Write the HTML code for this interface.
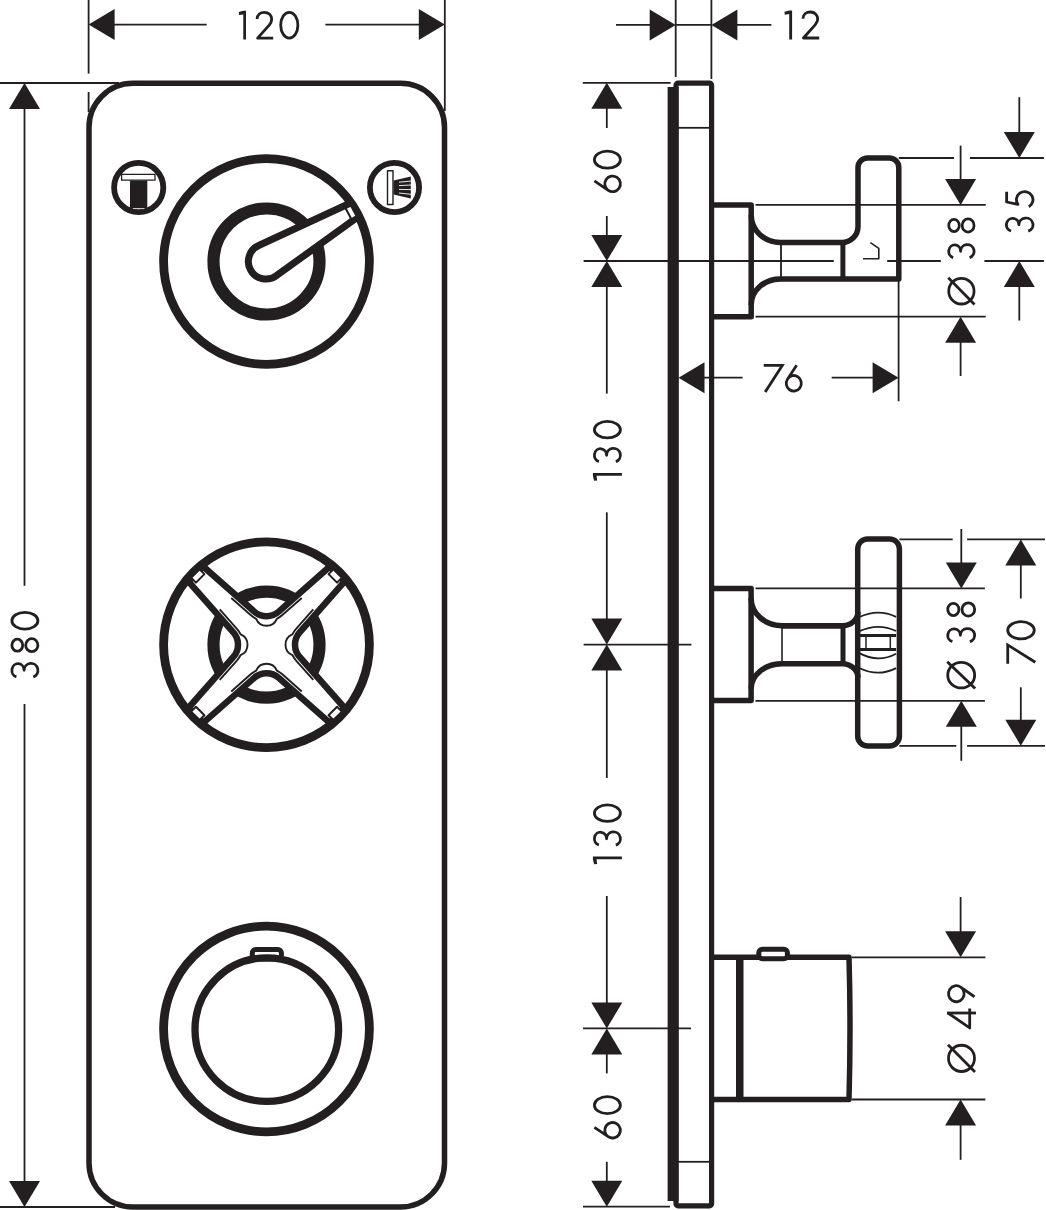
<!DOCTYPE html>
<html><head><meta charset="utf-8"><title>Drawing</title>
<style>
html,body{margin:0;padding:0;background:#fff;width:1046px;height:1210px;overflow:hidden;font-family:"Liberation Sans",sans-serif;}
svg{display:block;}
</style></head><body>
<svg width="1046" height="1210" viewBox="0 0 1046 1210">
<rect x="0" y="0" width="1046" height="1210" fill="#fff"/>
<g stroke="#231f20" fill="none" stroke-linecap="butt" stroke-linejoin="round">
<rect x="89" y="83.3" width="355.5" height="1123.7" rx="44" ry="44" stroke-width="5.5" fill="none"/>
<line x1="88.6" y1="0" x2="88.6" y2="73.6" stroke-width="1.8"/>
<line x1="88.6" y1="92" x2="88.6" y2="112" stroke-width="1.8"/>
<line x1="444.8" y1="0" x2="444.8" y2="111" stroke-width="1.8"/>
<polygon fill="#231f20" stroke="none" points="88.6,24.6 114.6,9.1 114.6,40.1"/>
<polygon fill="#231f20" stroke="none" points="444.8,24.6 418.8,9.1 418.8,40.1"/>
<line x1="114" y1="24.6" x2="206.7" y2="24.6" stroke-width="1.8"/>
<line x1="325.4" y1="24.6" x2="419" y2="24.6" stroke-width="1.8"/>
<g transform="translate(238.8 10.8) scale(0.9733 0.9931)" stroke-width="2.85" fill="none"><path d="M0,1.2 L4.6,0 H7.4 V29 H4.6 V3.6 L0.2,4.3 Z" fill="#231f20" stroke="none"/></g>
<g transform="translate(255.6 10.8) scale(1.0000 0.9931)" stroke-width="2.81" fill="none"><path d="M1.5,8.3 C1.6,4.2 4.8,1.5 8.8,1.5 C13,1.5 16.1,4.6 16.1,8.6 C16.1,10.9 15.2,12.6 13.6,14.4 L2,27.5 L17.6,27.5"/></g>
<g transform="translate(279.2 10.8) scale(1.0100 0.9931)" stroke-width="2.8" fill="none"><ellipse cx="10" cy="14.5" rx="8.5" ry="13"/></g>
<line x1="0" y1="83" x2="119" y2="83" stroke-width="1.8"/>
<line x1="0" y1="1207" x2="115" y2="1207" stroke-width="1.8"/>
<polygon fill="#231f20" stroke="none" points="24.5,83 9,109 40,109"/>
<polygon fill="#231f20" stroke="none" points="24.5,1207 9,1181 40,1181"/>
<line x1="24.5" y1="108" x2="24.5" y2="585.8" stroke-width="1.8"/>
<line x1="24.5" y1="704" x2="24.5" y2="1182" stroke-width="1.8"/>
<g transform="translate(10.4 678.9) rotate(-90) scale(1.0059 1.0000)" stroke-width="2.79" fill="none"><path d="M2.03,6.02 A6.7,6.1 0 1 1 8.5,13.7 A7,6.9 0 1 1 1.92,22.9"/></g>
<g transform="translate(10.4 653.2) rotate(-90) scale(1.0000 1.0000)" stroke-width="2.8" fill="none"><ellipse cx="8" cy="6.9" rx="6" ry="5.4"/><ellipse cx="8" cy="21.4" rx="6.5" ry="6.1"/></g>
<g transform="translate(10.4 630.5) rotate(-90) scale(0.9850 1.0000)" stroke-width="2.82" fill="none"><ellipse cx="10" cy="14.5" rx="8.5" ry="13"/></g>
<circle cx="138.7" cy="187.5" r="24.6" stroke-width="5.8" fill="none"/>
<rect x="121.6" y="174.4" width="33.4" height="5.8" stroke-width="1.3" fill="#fff"/>
<rect x="130" y="180.6" width="17.3" height="27.8" fill="#231f20" stroke="none"/>
<line x1="133" y1="208.3" x2="144.5" y2="208.3" stroke-width="1"/>
<line x1="133" y1="208.6" x2="144.5" y2="208.6" stroke="#fff" stroke-width="0.8"/>
<circle cx="394.5" cy="187.5" r="24.6" stroke-width="5.8" fill="none"/>
<rect x="387.5" y="170.7" width="5.5" height="33.8" stroke-width="1.4" fill="#fff"/>
<path d="M393.6,180.5 L410.8,176.6 L410.8,198.4 L393.6,194.6 Z" fill="#231f20" stroke="none"/>
<path d="M399,182.2 L411.5,181" stroke="#fff" stroke-width="0.9"/>
<path d="M399,185.6 L411.5,185" stroke="#fff" stroke-width="0.9"/>
<path d="M399,189.4 L411.5,189.6" stroke="#fff" stroke-width="0.9"/>
<path d="M399,193 L411.5,194.4" stroke="#fff" stroke-width="0.9"/>
<circle cx="266.5" cy="261.5" r="53" stroke-width="12.2" fill="none"/>
<path d="M348.32,204.01 L259.23,245.2 A17.6,17.6 0 1 0 276.67,275.43 L356.52,217.94" stroke-width="7" fill="#fff" />
<circle cx="266.5" cy="261.5" r="102.9" stroke-width="8.8" fill="none"/>
<path d="M345.6,208.2 L350.9,205.6 L356.6,216.2 L351.4,219.2 Z" stroke-width="2" fill="#fff" />
<circle cx="266.5" cy="644.7" r="53" stroke-width="12.2" fill="none"/>
<path d="M329.79,566.56 L344.64,581.41 L344.64,581.41 L299.63,632.44 A18.53,18.53 0 0 0 299.63,656.96 L344.64,707.99 L329.79,722.84 L329.79,722.84 L278.76,677.83 A18.53,18.53 0 0 0 254.24,677.83 L203.21,722.84 L188.36,707.99 L188.36,707.99 L233.37,656.96 A18.53,18.53 0 0 0 233.37,632.44 L188.36,581.41 L203.21,566.56 L203.21,566.56 L254.24,611.57 A18.53,18.53 0 0 0 278.76,611.57 L329.79,566.56 Z" stroke-width="6.5" fill="#fff" />
<path d="M313.27,609.44 L295.88,629.14 A23.53,23.53 0 0 0 292.39,634.36 A11.2,11.2 0 0 0 292.39,655.04 A23.53,23.53 0 0 0 295.88,660.26 L313.27,679.96" stroke-width="1.9" fill="none" />
<path d="M301.76,691.47 L282.06,674.08 A23.53,23.53 0 0 0 276.84,670.59 A11.2,11.2 0 0 0 256.16,670.59 A23.53,23.53 0 0 0 250.94,674.08 L231.24,691.47" stroke-width="1.9" fill="none" />
<path d="M219.73,679.96 L237.12,660.26 A23.53,23.53 0 0 0 240.61,655.04 A11.2,11.2 0 0 0 240.61,634.36 A23.53,23.53 0 0 0 237.12,629.14 L219.73,609.44" stroke-width="1.9" fill="none" />
<path d="M231.24,597.93 L250.94,615.32 A23.53,23.53 0 0 0 256.16,618.81 A11.2,11.2 0 0 0 276.84,618.81 A23.53,23.53 0 0 0 282.06,615.32 L301.76,597.93" stroke-width="1.9" fill="none" />
<circle cx="266.5" cy="644.7" r="102.9" stroke-width="8.8" fill="none"/>
<path d="M328.58,574.13 L333.39,569.32 L341.88,577.81 L337.07,582.62 Z" stroke-width="2" fill="#fff" />
<path d="M337.07,706.78 L341.88,711.59 L333.39,720.08 L328.58,715.27 Z" stroke-width="2" fill="#fff" />
<path d="M204.42,715.27 L199.61,720.08 L191.12,711.59 L195.93,706.78 Z" stroke-width="2" fill="#fff" />
<path d="M195.93,582.62 L191.12,577.81 L199.61,569.32 L204.42,574.13 Z" stroke-width="2" fill="#fff" />
<rect x="252.3" y="949.6" width="29.1" height="9.5" rx="3.5" stroke-width="5" fill="#fff"/>
<circle cx="266.8" cy="1029.6" r="71.8" stroke-width="7.3" fill="none"/>
<circle cx="266.5" cy="1029" r="102.9" stroke-width="8.8" fill="none"/>
<rect x="667.6" y="87" width="11" height="1114" fill="#231f20" stroke="none"/>
<rect x="676" y="83.2" width="35.6" height="1122.6" rx="2" stroke-width="5.2" fill="none"/>
<line x1="678" y1="127.8" x2="709" y2="127.8" stroke-width="1.8"/>
<line x1="678" y1="1161.8" x2="709" y2="1161.8" stroke-width="1.8"/>
<line x1="675.7" y1="0" x2="675.7" y2="77" stroke-width="1.8"/>
<line x1="711.4" y1="0" x2="711.4" y2="79" stroke-width="1.8"/>
<line x1="616" y1="24.9" x2="652" y2="24.9" stroke-width="1.8"/>
<polygon fill="#231f20" stroke="none" points="675.7,24.9 649.7,9.4 649.7,40.4"/>
<line x1="675.7" y1="24.9" x2="711.4" y2="24.9" stroke-width="1.8"/>
<polygon fill="#231f20" stroke="none" points="711.4,24.9 737.4,9.4 737.4,40.4"/>
<line x1="735" y1="24.9" x2="771.4" y2="24.9" stroke-width="1.8"/>
<g transform="translate(784.5 10.5) scale(1.0267 1.0000)" stroke-width="2.76" fill="none"><path d="M0,1.2 L4.6,0 H7.4 V29 H4.6 V3.6 L0.2,4.3 Z" fill="#231f20" stroke="none"/></g>
<g transform="translate(801.4 10.5) scale(1.0114 1.0000)" stroke-width="2.78" fill="none"><path d="M1.5,8.3 C1.6,4.2 4.8,1.5 8.8,1.5 C13,1.5 16.1,4.6 16.1,8.6 C16.1,10.9 15.2,12.6 13.6,14.4 L2,27.5 L17.6,27.5"/></g>
<line x1="582.8" y1="82.8" x2="670.6" y2="82.8" stroke-width="1.8"/>
<line x1="583" y1="1206.7" x2="670" y2="1206.7" stroke-width="1.8"/>
<line x1="583.6" y1="644.6" x2="691.4" y2="644.6" stroke-width="1.8"/>
<line x1="583" y1="1028.4" x2="691" y2="1028.4" stroke-width="1.8"/>
<polygon fill="#231f20" stroke="none" points="606.8,82.8 591.3,108.8 622.3,108.8"/>
<line x1="606.8" y1="105" x2="606.8" y2="128" stroke-width="1.8"/>
<g transform="translate(592.9 193.5) rotate(-90) scale(1.0000 1.0000)" stroke-width="2.8" fill="none"><path d="M12.6,1.5 L3.2,15.31 A7.8,7.8 0 1 0 16.1,24.09 A7.8,7.8 0 1 0 3.2,15.31"/></g>
<g transform="translate(592.9 169.7) rotate(-90) scale(1.0000 1.0000)" stroke-width="2.8" fill="none"><ellipse cx="10" cy="14.5" rx="8.5" ry="13"/></g>
<line x1="606.8" y1="216" x2="606.8" y2="237" stroke-width="1.8"/>
<polygon fill="#231f20" stroke="none" points="606.8,261 591.3,235 622.3,235"/>
<polygon fill="#231f20" stroke="none" points="606.8,261 591.3,287 622.3,287"/>
<line x1="606.8" y1="284" x2="606.8" y2="393.6" stroke-width="1.8"/>
<g transform="translate(592.9 480.7) rotate(-90) scale(1.0533 1.0000)" stroke-width="2.73" fill="none"><path d="M0,1.2 L4.6,0 H7.4 V29 H4.6 V3.6 L0.2,4.3 Z" fill="#231f20" stroke="none"/></g>
<g transform="translate(592.9 463.5) rotate(-90) scale(0.9706 1.0000)" stroke-width="2.84" fill="none"><path d="M2.03,6.02 A6.7,6.1 0 1 1 8.5,13.7 A7,6.9 0 1 1 1.92,22.9"/></g>
<g transform="translate(592.9 439.4) rotate(-90) scale(0.9750 1.0000)" stroke-width="2.84" fill="none"><ellipse cx="10" cy="14.5" rx="8.5" ry="13"/></g>
<line x1="606.8" y1="512.3" x2="606.8" y2="620" stroke-width="1.8"/>
<polygon fill="#231f20" stroke="none" points="606.8,644.6 591.3,618.6 622.3,618.6"/>
<polygon fill="#231f20" stroke="none" points="606.8,644.6 591.3,670.6 622.3,670.6"/>
<line x1="606.8" y1="668" x2="606.8" y2="778" stroke-width="1.8"/>
<g transform="translate(592.9 864.2) rotate(-90) scale(1.0533 1.0000)" stroke-width="2.73" fill="none"><path d="M0,1.2 L4.6,0 H7.4 V29 H4.6 V3.6 L0.2,4.3 Z" fill="#231f20" stroke="none"/></g>
<g transform="translate(592.9 847) rotate(-90) scale(0.9706 1.0000)" stroke-width="2.84" fill="none"><path d="M2.03,6.02 A6.7,6.1 0 1 1 8.5,13.7 A7,6.9 0 1 1 1.92,22.9"/></g>
<g transform="translate(592.9 822.9) rotate(-90) scale(0.9750 1.0000)" stroke-width="2.84" fill="none"><ellipse cx="10" cy="14.5" rx="8.5" ry="13"/></g>
<line x1="606.8" y1="896" x2="606.8" y2="1004" stroke-width="1.8"/>
<polygon fill="#231f20" stroke="none" points="606.8,1028.4 591.3,1002.4 622.3,1002.4"/>
<polygon fill="#231f20" stroke="none" points="606.8,1028.4 591.3,1054.4 622.3,1054.4"/>
<line x1="606.8" y1="1052" x2="606.8" y2="1073.4" stroke-width="1.8"/>
<g transform="translate(592.9 1139.8) rotate(-90) scale(0.9896 1.0000)" stroke-width="2.81" fill="none"><path d="M12.6,1.5 L3.2,15.31 A7.8,7.8 0 1 0 16.1,24.09 A7.8,7.8 0 1 0 3.2,15.31"/></g>
<g transform="translate(592.9 1115.1) rotate(-90) scale(0.9950 1.0000)" stroke-width="2.81" fill="none"><ellipse cx="10" cy="14.5" rx="8.5" ry="13"/></g>
<line x1="606.8" y1="1161.8" x2="606.8" y2="1183" stroke-width="1.8"/>
<polygon fill="#231f20" stroke="none" points="606.8,1206.7 591.3,1180.7 622.3,1180.7"/>
<line x1="583.6" y1="261" x2="833.8" y2="261" stroke-width="1.8"/>
<line x1="887.2" y1="261" x2="940.8" y2="261" stroke-width="1.8"/>
<line x1="984.4" y1="261" x2="1043.9" y2="261" stroke-width="1.8"/>
<line x1="755.5" y1="204.9" x2="985.7" y2="204.9" stroke-width="1.8"/>
<line x1="755.5" y1="316.7" x2="985.7" y2="316.7" stroke-width="1.8"/>
<path d="M711.6,204.9 H751.2 V316.8 H711.6" stroke-width="5.5" fill="none" />
<path d="M751.2,215 A29,27.5 0 0 0 780.2,242.5 H842 A16,16 0 0 0 858,226.5 V167.5 A9.5,9.5 0 0 1 867.5,158 H889.3 A9.5,9.5 0 0 1 898.8,167.5 V278.9 H780.2 A29,26 0 0 0 751.2,304.9" stroke-width="5.5" fill="none" />
<line x1="781" y1="242.5" x2="781" y2="278.9" stroke-width="1.8"/>
<line x1="842.9" y1="242.5" x2="842.9" y2="278.9" stroke-width="5"/>
<path d="M870.4,242.6 L878.8,248.3 V258.8 H863" stroke-width="1.6" fill="none" />
<line x1="898.6" y1="278.9" x2="898.6" y2="401.3" stroke-width="1.8"/>
<polygon fill="#231f20" stroke="none" points="678.5,377.7 704.5,362.2 704.5,393.2"/>
<line x1="700" y1="377.7" x2="742.6" y2="377.7" stroke-width="1.8"/>
<line x1="831.7" y1="377.7" x2="875" y2="377.7" stroke-width="1.8"/>
<polygon fill="#231f20" stroke="none" points="898.6,377.7 872.6,362.2 872.6,393.2"/>
<g transform="translate(763.7 364) scale(1.0000 0.9862)" stroke-width="2.82" fill="none"><path d="M0,1.5 L18.6,1.5 L1.5,28.5" stroke-linejoin="miter"/></g>
<g transform="translate(784.5 363.7) scale(0.9637 0.9966)" stroke-width="2.86" fill="none"><path d="M12.6,1.5 L3.2,15.31 A7.8,7.8 0 1 0 16.1,24.09 A7.8,7.8 0 1 0 3.2,15.31"/></g>
<line x1="960.6" y1="145.6" x2="960.6" y2="180" stroke-width="1.8"/>
<polygon fill="#231f20" stroke="none" points="960.6,204.9 945.1,178.9 976.1,178.9"/>
<polygon fill="#231f20" stroke="none" points="960.6,316.7 945.1,342.7 976.1,342.7"/>
<line x1="960.6" y1="340" x2="960.6" y2="376" stroke-width="1.8"/>
<g transform="translate(947.3 305.5) rotate(-90) scale(1.0070 0.9724)" stroke-width="2.83" fill="none"><ellipse cx="14.25" cy="14.5" rx="12.75" ry="13"/><path d="M27.5,1 L1,28"/></g>
<g transform="translate(947.3 259.5) rotate(-90) scale(0.9588 0.9724)" stroke-width="2.9" fill="none"><path d="M2.03,6.02 A6.7,6.1 0 1 1 8.5,13.7 A7,6.9 0 1 1 1.92,22.9"/></g>
<g transform="translate(947.3 233.6) rotate(-90) scale(1.0187 0.9724)" stroke-width="2.81" fill="none"><ellipse cx="8" cy="6.9" rx="6" ry="5.4"/><ellipse cx="8" cy="21.4" rx="6.5" ry="6.1"/></g>
<line x1="898.8" y1="158" x2="954" y2="158" stroke-width="1.8"/>
<line x1="969.9" y1="158" x2="1043.9" y2="158" stroke-width="1.8"/>
<line x1="1019.3" y1="97.2" x2="1019.3" y2="134" stroke-width="1.8"/>
<polygon fill="#231f20" stroke="none" points="1019.3,158 1003.8,132 1034.8,132"/>
<polygon fill="#231f20" stroke="none" points="1019.3,261 1003.8,287 1034.8,287"/>
<line x1="1019.3" y1="285" x2="1019.3" y2="320.5" stroke-width="1.8"/>
<g transform="translate(1004.9 233) rotate(-90) scale(0.9647 1.0207)" stroke-width="2.82" fill="none"><path d="M2.03,6.02 A6.7,6.1 0 1 1 8.5,13.7 A7,6.9 0 1 1 1.92,22.9"/></g>
<g transform="translate(1004.9 209.3) rotate(-90) scale(1.0000 1.0207)" stroke-width="2.77" fill="none"><path d="M17.5,1.7 L7.3,1.7 L4.95,12.77 A8.1,8.1 0 1 1 2.59,23.45"/></g>
<line x1="755.5" y1="588.4" x2="984.9" y2="588.4" stroke-width="1.8"/>
<line x1="755.5" y1="700.8" x2="984.9" y2="700.8" stroke-width="1.8"/>
<path d="M711.6,588.4 H751.1 V700.6 H711.6" stroke-width="5.5" fill="none" />
<path d="M751.1,598 A31,27.8 0 0 0 782,625.8 H843 A16,14 0 0 0 858,612 M843,663.7 A16,14 0 0 1 858,677.5 M782,663.7 A31,25 0 0 0 751.1,688.7" stroke-width="5.5" fill="none" />
<line x1="782" y1="625.8" x2="843" y2="625.8" stroke-width="5.5"/>
<line x1="782" y1="663.7" x2="843" y2="663.7" stroke-width="5.5"/>
<line x1="782" y1="625.8" x2="782" y2="663.7" stroke-width="1.6"/>
<line x1="843" y1="623.5" x2="843" y2="666" stroke-width="5"/>
<rect x="857.7" y="538.9" width="41.7" height="207.2" rx="10" stroke-width="5.5" fill="none"/>
<path d="M858.9,617.3 Q877.9,608.3 896.1,616.9 M858.9,667.7 Q877.9,677.5 896.1,668.1" stroke-width="1.8" fill="none" />
<path d="M858.9,631.4 Q877.9,622.4 896.1,631 M858.9,652.9 Q877.9,663.5 896.1,653.7" stroke-width="1.8" fill="none" />
<line x1="858.9" y1="635.5" x2="896.1" y2="635.5" stroke-width="2.8"/>
<line x1="858.9" y1="649.5" x2="896.1" y2="649.5" stroke-width="2.8"/>
<line x1="866" y1="635.5" x2="866" y2="649.5" stroke-width="1.5"/>
<line x1="890.3" y1="635.5" x2="890.3" y2="649.5" stroke-width="1.5"/>
<line x1="961.3" y1="529" x2="961.3" y2="565" stroke-width="1.8"/>
<polygon fill="#231f20" stroke="none" points="961.3,588.4 945.8,562.4 976.8,562.4"/>
<polygon fill="#231f20" stroke="none" points="961.3,700.8 945.8,726.8 976.8,726.8"/>
<line x1="961.3" y1="725" x2="961.3" y2="760.8" stroke-width="1.8"/>
<g transform="translate(946.2 689.5) rotate(-90) scale(1.0070 1.0345)" stroke-width="2.74" fill="none"><ellipse cx="14.25" cy="14.5" rx="12.75" ry="13"/><path d="M27.5,1 L1,28"/></g>
<g transform="translate(946.2 643.5) rotate(-90) scale(0.9588 1.0345)" stroke-width="2.81" fill="none"><path d="M2.03,6.02 A6.7,6.1 0 1 1 8.5,13.7 A7,6.9 0 1 1 1.92,22.9"/></g>
<g transform="translate(946.2 617.6) rotate(-90) scale(1.0188 1.0345)" stroke-width="2.73" fill="none"><ellipse cx="8" cy="6.9" rx="6" ry="5.4"/><ellipse cx="8" cy="21.4" rx="6.5" ry="6.1"/></g>
<line x1="899.4" y1="539.4" x2="952.7" y2="539.4" stroke-width="1.8"/>
<line x1="967.1" y1="539.4" x2="1045" y2="539.4" stroke-width="1.8"/>
<line x1="899.4" y1="745.8" x2="956.3" y2="745.8" stroke-width="1.8"/>
<line x1="967.1" y1="745.8" x2="1045" y2="745.8" stroke-width="1.8"/>
<polygon fill="#231f20" stroke="none" points="1020.8,539.4 1005.3,565.4 1036.3,565.4"/>
<line x1="1020.8" y1="563" x2="1020.8" y2="598.5" stroke-width="1.8"/>
<line x1="1020.8" y1="687.3" x2="1020.8" y2="722" stroke-width="1.8"/>
<polygon fill="#231f20" stroke="none" points="1020.8,745.8 1005.3,719.8 1036.3,719.8"/>
<g transform="translate(1006.2 663.8) rotate(-90) scale(1.0149 1.0207)" stroke-width="2.75" fill="none"><path d="M0,1.5 L18.6,1.5 L1.5,28.5" stroke-linejoin="miter"/></g>
<g transform="translate(1006.2 640.4) rotate(-90) scale(1.0100 1.0207)" stroke-width="2.76" fill="none"><ellipse cx="10" cy="14.5" rx="8.5" ry="13"/></g>
<line x1="851.7" y1="957.3" x2="985.4" y2="957.3" stroke-width="1.8"/>
<line x1="851.7" y1="1099.5" x2="985.4" y2="1099.5" stroke-width="1.8"/>
<path d="M711.4,957.3 H849 Q851,1028 849,1099.5 H711.4" stroke-width="5.5" fill="none" />
<line x1="739.75" y1="957.3" x2="739.75" y2="1099.5" stroke-width="7.5"/>
<rect x="758.8" y="949.3" width="28.6" height="9.5" rx="3.5" stroke-width="5" fill="#fff"/>
<line x1="960.6" y1="897" x2="960.6" y2="933" stroke-width="1.8"/>
<polygon fill="#231f20" stroke="none" points="960.6,957.3 945.1,931.3 976.1,931.3"/>
<polygon fill="#231f20" stroke="none" points="960.6,1099.5 945.1,1125.5 976.1,1125.5"/>
<line x1="960.6" y1="1124" x2="960.6" y2="1159.8" stroke-width="1.8"/>
<g transform="translate(947 1073) rotate(-90) scale(1.0281 1.0000)" stroke-width="2.76" fill="none"><ellipse cx="14.25" cy="14.5" rx="12.75" ry="13"/><path d="M27.5,1 L1,28"/></g>
<g transform="translate(947 1029.4) rotate(-90) scale(1.0000 1.0000)" stroke-width="2.8" fill="none"><path d="M16.4,1 L1.5,22.7 L20.8,22.7"/><path d="M16.4,0 V29"/></g>
<g transform="translate(947 1003.6) rotate(-90) scale(1.0259 1.0000)" stroke-width="2.76" fill="none"><g transform="rotate(180 9.65 14.5)"><path d="M12.6,1.5 L3.2,15.31 A7.8,7.8 0 1 0 16.1,24.09 A7.8,7.8 0 1 0 3.2,15.31"/></g></g>
</g>
</svg>
</body></html>
